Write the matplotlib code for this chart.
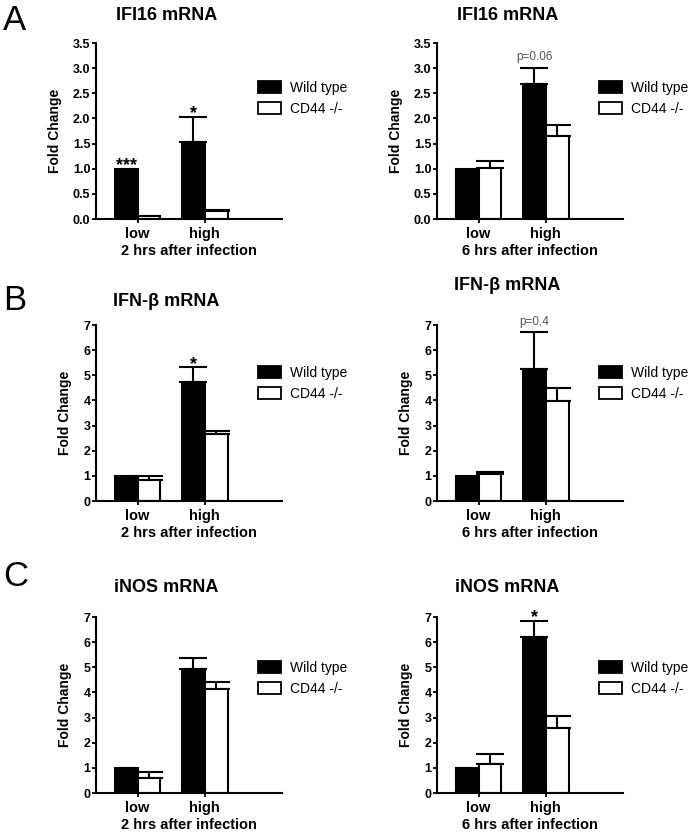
import matplotlib
matplotlib.use("Agg")
import matplotlib.pyplot as plt
from matplotlib.patches import Patch

plt.rcParams['font.family'] = ['Liberation Sans', 'DejaVu Sans']

groups = ["low", "high"]
series_names = ["Wild type", "CD44 -/-"]

# IFI16, 2 hrs / 6 hrs
ifi16_2h_wt = [1.0, 1.53]
ifi16_2h_wt_err = [0.0, 0.50]
ifi16_2h_ko = [0.05, 0.15]
ifi16_2h_ko_err = [0.0, 0.03]

ifi16_6h_wt = [1.0, 2.68]
ifi16_6h_wt_err = [0.0, 0.33]
ifi16_6h_ko = [1.02, 1.66]
ifi16_6h_ko_err = [0.14, 0.20]

# IFN-beta
ifnb_2h_wt = [1.0, 4.75]
ifnb_2h_wt_err = [0.0, 0.57]
ifnb_2h_ko = [0.83, 2.65]
ifnb_2h_ko_err = [0.18, 0.12]

ifnb_6h_wt = [1.0, 5.25]
ifnb_6h_wt_err = [0.0, 1.46]
ifnb_6h_ko = [1.07, 3.99]
ifnb_6h_ko_err = [0.10, 0.52]

# iNOS
inos_2h_wt = [1.0, 4.93]
inos_2h_wt_err = [0.0, 0.42]
inos_2h_ko = [0.59, 4.13]
inos_2h_ko_err = [0.23, 0.28]

inos_6h_wt = [1.0, 6.20]
inos_6h_wt_err = [0.0, 0.65]
inos_6h_ko = [1.16, 2.57]
inos_6h_ko_err = [0.39, 0.49]

W, H = 696, 836
fig = plt.figure(figsize=(W / 100, H / 100), dpi=100)

bw = 0.34
xc = [1, 2]


def draw_err(ax, xs, vals, errs):
    # upper error only, skip bars without error
    for x, v, e in zip(xs, vals, errs):
        if e > 0:
            ax.errorbar([x], [v], yerr=[[0], [e]], fmt="none", ecolor="black",
                        elinewidth=1.5, capsize=10, capthick=1.5, zorder=1)


def panel(left_px, top_px, title, title_dy, xlab, wt, wt_err, ko, ko_err,
          ymax, ystep, fmt, marks, leg_px):
    ax = fig.add_axes([left_px / W, 1 - (top_px + 176) / H, 186 / W, 176 / H])
    xw = [x - bw / 2 for x in xc]
    xk = [x + bw / 2 for x in xc]
    ax.bar(xw, wt, bw, color="black", edgecolor="black", linewidth=1.5,
           label=series_names[0], zorder=2)
    ax.bar(xk, ko, bw, color="white", edgecolor="black", linewidth=1.5,
           label=series_names[1], zorder=2)
    draw_err(ax, xw, wt, wt_err)
    draw_err(ax, xk, ko, ko_err)

    ax.set_xlim(0.38, 3.15)
    ax.set_ylim(0, ymax)
    yt = [i * ystep for i in range(int(round(ymax / ystep)) + 1)]
    ax.set_yticks(yt)
    ax.set_yticklabels([fmt.format(v) for v in yt], fontweight="bold", fontsize=9)
    ax.set_xticks(xc)
    ax.set_xticklabels(groups, fontweight="bold", fontsize=10.5)
    ax.tick_params(axis="y", length=3, width=1.3, pad=1)
    ax.tick_params(axis="x", length=3, width=1.3, pad=3)
    for s in ["top", "right"]:
        ax.spines[s].set_visible(False)
    for s in ["left", "bottom"]:
        ax.spines[s].set_linewidth(1.5)
    ax.set_ylabel("Fold Change", fontweight="bold", fontsize=10, labelpad=8)
    ax.set_xlabel(xlab, fontweight="bold", fontsize=10.5, labelpad=2)
    ax.text(0.38, 1 + title_dy, title, transform=ax.transAxes, ha="center",
            va="center", fontweight="bold", fontsize=13)

    for (i, series, txt) in marks:
        vals, errs = (wt, wt_err) if series == 0 else (ko, ko_err)
        x = xw[i] if series == 0 else xk[i]
        top = vals[i] + errs[i]
        if txt.startswith("p"):
            ax.annotate(txt, (x, top), xytext=(0, 3), textcoords="offset points",
                        ha="center", va="bottom", fontsize=8.5, color="#555555")
        else:
            ax.annotate(txt, (x, top), xytext=(0, -1), textcoords="offset points",
                        ha="center", va="baseline", fontsize=13, fontweight="bold")

    ax.legend(handles=[Patch(facecolor="black", edgecolor="black", linewidth=1.3),
                       Patch(facecolor="white", edgecolor="black", linewidth=1.3)],
              labels=series_names, loc="upper left",
              bbox_to_anchor=(162 / 186, 1 - (leg_px - top_px) / 176),
              frameon=False, fontsize=10, handlelength=1.65, handleheight=1.0,
              labelspacing=0.5, handletextpad=0.65, borderpad=0, borderaxespad=0)
    return ax


panel(96, 43, "IFI16 mRNA", 0.159, "2 hrs after infection",
      ifi16_2h_wt, ifi16_2h_wt_err, ifi16_2h_ko, ifi16_2h_ko_err,
      3.5, 0.5, "{:.1f}", [(0, 0, "***"), (1, 0, "*")], 81)
panel(437, 43, "IFI16 mRNA", 0.159, "6 hrs after infection",
      ifi16_6h_wt, ifi16_6h_wt_err, ifi16_6h_ko, ifi16_6h_ko_err,
      3.5, 0.5, "{:.1f}", [(1, 0, "p=0.06")], 81)
panel(96, 325, "IFN-β mRNA", 0.131, "2 hrs after infection",
      ifnb_2h_wt, ifnb_2h_wt_err, ifnb_2h_ko, ifnb_2h_ko_err,
      7, 1, "{:.0f}", [(1, 0, "*")], 366)
panel(437, 325, "IFN-β mRNA", 0.227, "6 hrs after infection",
      ifnb_6h_wt, ifnb_6h_wt_err, ifnb_6h_ko, ifnb_6h_ko_err,
      7, 1, "{:.0f}", [(1, 0, "p=0,4")], 366)
panel(96, 617, "iNOS mRNA", 0.165, "2 hrs after infection",
      inos_2h_wt, inos_2h_wt_err, inos_2h_ko, inos_2h_ko_err,
      7, 1, "{:.0f}", [], 661)
panel(437, 617, "iNOS mRNA", 0.165, "6 hrs after infection",
      inos_6h_wt, inos_6h_wt_err, inos_6h_ko, inos_6h_ko_err,
      7, 1, "{:.0f}", [(1, 0, "*")], 661)

for letter, yp in [("A", 20), ("B", 301), ("C", 577)]:
    fig.text(3 / W, 1 - yp / H, letter, fontsize=25, ha="left", va="center")

fig.savefig("out.png", dpi=100)
